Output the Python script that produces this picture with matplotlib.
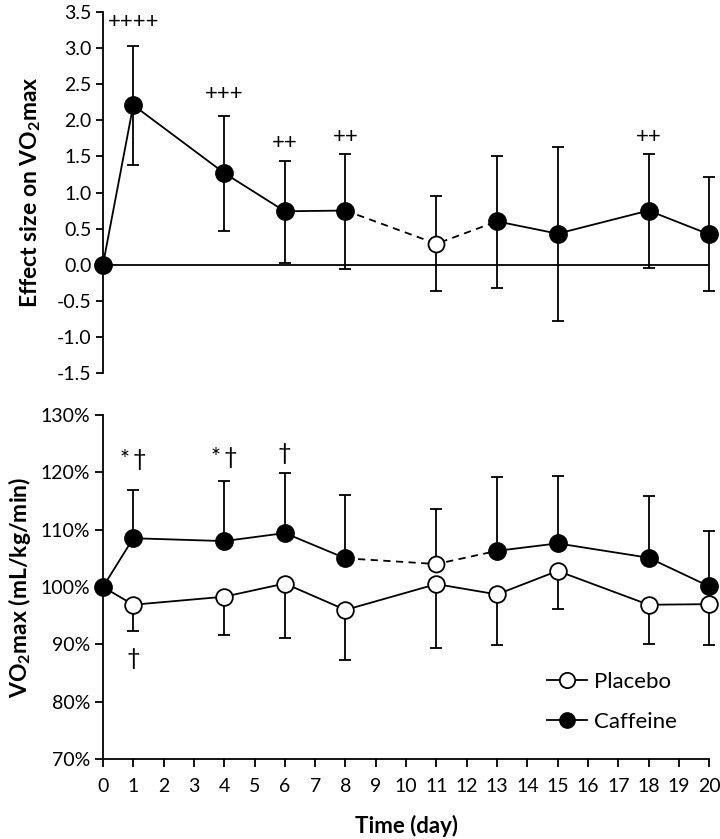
"""Effect size and relative VO2max over 20 days, caffeine vs placebo."""
import matplotlib
matplotlib.use("Agg")
import matplotlib.pyplot as plt
from matplotlib.lines import Line2D
from matplotlib.ticker import FuncFormatter
import numpy as np

plt.rcParams["font.family"] = ["Lato", "DejaVu Sans"]
plt.rcParams["axes.unicode_minus"] = False
plt.rcParams["mathtext.fontset"] = "custom"
plt.rcParams["mathtext.rm"] = "Lato"
plt.rcParams["mathtext.bf"] = "Lato:bold"

days = [0, 1, 4, 6, 8, 11, 13, 15, 18, 20]

# top panel: effect size on VO2max (caffeine)
effect = [0.0, 2.21, 1.27, 0.74, 0.75, 0.29, 0.60, 0.43, 0.75, 0.42]
effect_hi = [None, 3.03, 2.06, 1.43, 1.54, 0.95, 1.51, 1.63, 1.53, 1.21]
effect_lo = [None, 1.38, 0.46, 0.02, -0.06, -0.37, -0.32, -0.78, -0.05, -0.37]
effect_marks = {1: "++++", 4: "+++", 6: "++", 8: "++", 18: "++"}
effect_mark_y = {1: 3.36, 4: 2.36, 6: 1.68, 8: 1.77, 18: 1.77}

# bottom panel: VO2max relative to baseline (%)
caffeine = [100.0, 108.5, 108.0, 109.4, 105.0, 104.0, 106.3, 107.6, 105.1, 100.1]
caffeine_hi = [None, 117.0, 118.4, 119.8, 116.1, 113.6, 119.2, 119.4, 115.9, 109.8]
placebo = [100.0, 96.9, 98.3, 100.6, 96.0, 100.5, 98.7, 102.8, 96.9, 97.0]
placebo_lo = [None, 92.4, 91.6, 91.1, 87.3, 89.3, 89.9, 96.2, 90.0, 89.9]
vo2_marks = [(1, 122.3, "*\u2009\u2020"), (4, 122.6, "*\u2009\u2020"), (6, 123.2, "\u2020"), (1, 87.6, "\u2020")]

dashed_from, dashed_to = 8, 13   # caffeine line is dashed across day 11
open_day = 11
LW = 1.3
MS = 12.5


def split_segments(x, y):
    x = np.asarray(x, float)
    y = np.asarray(y, float)
    solid1 = x <= dashed_from
    dash = (x >= dashed_from) & (x <= dashed_to)
    solid2 = x >= dashed_to
    return [(x[solid1], y[solid1], "-"), (x[dash], y[dash], (0, (4, 3))), (x[solid2], y[solid2], "-")]


def draw_caffeine(ax, y):
    for xs, ys, ls in split_segments(days, y):
        ax.plot(xs, ys, color="black", lw=LW, linestyle=ls, zorder=2, clip_on=False)
    x = np.asarray(days)
    y = np.asarray(y)
    filled = x != open_day
    ax.plot(x[filled], y[filled], "o", color="black", ms=MS, zorder=6, clip_on=False)
    ax.plot(x[~filled], y[~filled], "o", mfc="white", mec="black", mew=LW, ms=MS - 1, zorder=6)


def bars(ax, y, lo=None, hi=None):
    ref = hi if hi is not None else lo
    idx = [i for i in range(len(days)) if ref[i] is not None]
    x = [days[i] for i in idx]
    yy = np.array([y[i] for i in idx])
    down = np.zeros(len(idx)) if lo is None else yy - np.array([lo[i] for i in idx])
    up = np.zeros(len(idx)) if hi is None else np.array([hi[i] for i in idx]) - yy
    _, caps, lines = ax.errorbar(x, yy, yerr=[down, up], fmt="none", ecolor="black",
                                 elinewidth=LW, capsize=4, capthick=LW, zorder=1)
    for artist in list(caps) + list(lines):
        artist.set_clip_on(False)


fig = plt.figure(figsize=(7.2, 8.39), dpi=100)
fig.patch.set_facecolor("white")
ax1 = fig.add_axes([0.143, 0.5554, 0.842, 0.4303])
ax2 = fig.add_axes([0.143, 0.0954, 0.842, 0.41])

# Top: effect size.

bars(ax1, effect, lo=effect_lo, hi=effect_hi)
ax1.axhline(0, color="black", lw=LW, zorder=1.5)
draw_caffeine(ax1, effect)
for d, txt in effect_marks.items():
    ax1.text(d, effect_mark_y[d], txt, ha="center", va="center", fontsize=16)

ax1.set_xlim(0, 20)
ax1.set_ylim(-1.5, 3.5)
ax1.set_yticks(np.arange(-1.5, 3.51, 0.5))
ax1.yaxis.set_major_formatter(FuncFormatter(lambda v, p: f"{v:.1f}"))
ax1.set_xticks([])
for s in ["top", "right", "bottom"]:
    ax1.spines[s].set_visible(False)
ax1.spines["left"].set_linewidth(LW)
ax1.tick_params(axis="y", direction="out", length=5, width=LW, labelsize=14, pad=3)
ax1.set_ylabel(r"Effect size on VO$_\mathbf{2}$max", fontsize=16.5, fontweight="bold", labelpad=10)

# Bottom: relative VO2max.

bars(ax2, caffeine, hi=caffeine_hi)
bars(ax2, placebo, lo=placebo_lo)
ax2.plot(days, placebo, "-", color="black", lw=LW, zorder=2, clip_on=False)
ax2.plot(days[1:], placebo[1:], "o", mfc="white", mec="black", mew=LW, ms=MS - 0.5, zorder=5,
         clip_on=False)
draw_caffeine(ax2, caffeine)
for d, yv, txt in vo2_marks:
    ax2.text(d, yv, txt, ha="center", va="center", fontsize=17)

ax2.set_xlim(0, 20)
ax2.set_ylim(70, 130)
ax2.set_xticks(range(0, 21))
ax2.set_yticks(range(70, 131, 10))
ax2.yaxis.set_major_formatter(FuncFormatter(lambda v, p: f"{v:.0f}%"))
for s in ["top", "right"]:
    ax2.spines[s].set_visible(False)
for s in ["left", "bottom"]:
    ax2.spines[s].set_linewidth(LW)
ax2.tick_params(direction="out", length=6, width=LW, labelsize=14, pad=3)
ax2.tick_params(axis="x", pad=8)
ax2.set_ylabel(r"VO$_\mathbf{2}$max (mL/kg/min)", fontsize=16.5, fontweight="bold", labelpad=6)
ax2.set_xlabel("Time (day)", fontsize=16, fontweight="bold", labelpad=14)

handles = [
    Line2D([], [], color="black", lw=LW, marker="o", mfc="white", mec="black", mew=LW, ms=11),
    Line2D([], [], color="black", lw=LW, marker="o", ms=11),
]
ax2.legend(handles, ["Placebo", "Caffeine"], loc="lower left", bbox_to_anchor=(0.7, 0.02),
           frameon=False, fontsize=16, handlelength=1.8, handletextpad=0.3, labelspacing=0.9)

fig.savefig("out.png", dpi=100)
